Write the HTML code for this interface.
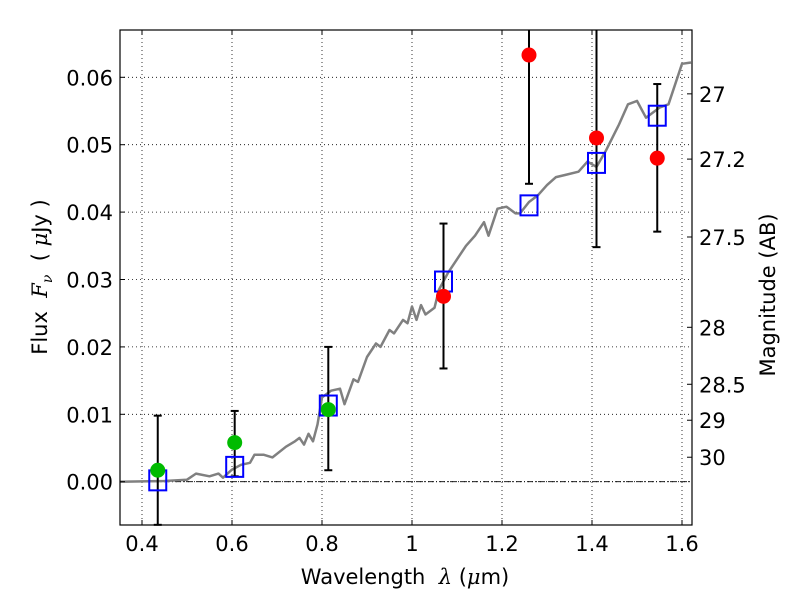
<!DOCTYPE html>
<html><head><meta charset="utf-8"><style>
body{margin:0;background:#fff;font-family:"Liberation Sans","DejaVu Sans",sans-serif}
svg text{font-family:"DejaVu Sans","Liberation Sans",sans-serif}
</style></head><body>
<svg id="chart" width="800" height="600" xmlns="http://www.w3.org/2000/svg">
<rect width="800" height="600" fill="#fff"/>
<g id="grid"></g>
<g id="model"></g>
<g id="marks"></g>
<rect x="120" y="30" width="572" height="495" fill="none" stroke="#000" stroke-width="1.2"/>
<g id="axes"></g>
<text x="405" y="584" font-size="21" text-anchor="middle" xml:space="preserve">Wavelength  <tspan font-style="italic" font-family="DejaVu Serif,serif">λ</tspan> (<tspan font-style="italic" font-family="DejaVu Serif,serif">μ</tspan>m)</text>
<text transform="translate(47,277) rotate(-90)" font-size="21" text-anchor="middle" xml:space="preserve">Flux  <tspan font-style="italic" font-family="DejaVu Serif,serif">F<tspan font-size="14" dy="5">ν</tspan></tspan><tspan dy="-5">  ( </tspan><tspan font-style="italic" font-family="DejaVu Serif,serif">μ</tspan>Jy )</text>
<text transform="translate(775,295) rotate(-90)" font-size="21" text-anchor="middle">Magnitude (AB)</text>
</svg>
<script>
const xTicks=[0.4,0.6,0.8,1.0,1.2,1.4,1.6];
const xTickLabels=["0.4","0.6","0.8","1","1.2","1.4","1.6"];
const yTicks=[0,0.01,0.02,0.03,0.04,0.05,0.06];
const yTickLabels=["0.00","0.01","0.02","0.03","0.04","0.05","0.06"];
const magTicks=[27,27.2,27.5,28,28.5,29,30];
const magLabels=["27","27.2","27.5","28","28.5","29","30"];
const greenX=[0.435,0.606,0.814];
const greenY=[0.0017,0.0058,0.0107];
const greenLo=[-0.0064,0.0008,0.0017];
const greenHi=[0.0098,0.0105,0.0200];
const redX=[1.07,1.26,1.41,1.545];
const redY=[0.0275,0.0633,0.0510,0.0480];
const redLo=[0.0168,0.0442,0.0348,0.0371];
const redHi=[0.0383,0.0700,0.0700,0.0590];
const sqX=[0.435,0.606,0.814,1.07,1.26,1.41,1.545];
const sqY=[0.0002,0.0022,0.0113,0.0297,0.0410,0.0473,0.0543];
const modelX=[0.35,0.45,0.5,0.52,0.55,0.57,0.58,0.6,0.62,0.64,0.65,0.67,0.69,0.72,0.74,0.75,0.76,0.77,0.78,0.79,0.80,0.82,0.84,0.85,0.87,0.88,0.90,0.92,0.93,0.95,0.96,0.98,0.99,1.0,1.01,1.02,1.03,1.05,1.06,1.08,1.10,1.12,1.14,1.16,1.17,1.19,1.21,1.23,1.24,1.26,1.28,1.30,1.32,1.34,1.37,1.39,1.41,1.43,1.46,1.48,1.50,1.52,1.55,1.57,1.60,1.62];
const modelY=[0,0.0001,0.0003,0.0012,0.0008,0.0012,0.0006,0.0018,0.0025,0.0028,0.0040,0.0040,0.0036,0.0052,0.0060,0.0065,0.0055,0.0071,0.0060,0.0085,0.0125,0.0135,0.0138,0.0115,0.0152,0.0148,0.0185,0.0205,0.0200,0.0225,0.0220,0.0240,0.0235,0.0260,0.0240,0.0262,0.0248,0.0258,0.0285,0.0310,0.0330,0.0350,0.0365,0.0385,0.0365,0.0405,0.0408,0.0398,0.0398,0.0415,0.0425,0.0440,0.0452,0.0455,0.0460,0.0475,0.0467,0.0490,0.0530,0.0560,0.0565,0.0540,0.0555,0.0560,0.0620,0.0622];

const L=120,R=692,T=30,B=525;
const X=v=>142+(v-0.4)*450;
const Y=v=>481.7-v*6740;
const clampY=y=>Math.max(T,Math.min(B,y));
const NS="http://www.w3.org/2000/svg";
function mk(tag,attrs,parent){const e=document.createElementNS(NS,tag);for(const k in attrs)e.setAttribute(k,attrs[k]);parent.appendChild(e);return e;}
const grid=document.getElementById('grid'),axes=document.getElementById('axes'),model=document.getElementById('model'),marks=document.getElementById('marks');

xTicks.forEach((t,i)=>{const x=X(t);
 const g=mk('line',{x1:x,x2:x,y1:T,y2:B,stroke:'#000','stroke-width':0.8,'stroke-dasharray':'1,3'},grid);
 
 
 mk('line',{x1:x,x2:x,y1:B,y2:B-5,stroke:'#000'},axes);
 mk('line',{x1:x,x2:x,y1:T,y2:T+5,stroke:'#000'},axes);
 const tx=mk('text',{x:x,y:B+26,'font-size':21,'text-anchor':'middle'},axes);tx.textContent=xTickLabels[i];
 
 
});
yTicks.forEach((t,i)=>{const y=Y(t);
 const g=mk('line',{x1:L,x2:R,y1:y,y2:y,stroke:'#000','stroke-width':0.8,'stroke-dasharray':'1,3'},grid);
 
 
 mk('line',{x1:L,x2:L+5,y1:y,y2:y,stroke:'#000'},axes);
 const tx=mk('text',{x:L-7,y:y+8,'font-size':21,'text-anchor':'end'},axes);tx.textContent=yTickLabels[i];
 
 
});
magTicks.forEach((m,i)=>{const y=Y(Math.pow(10,(23.9-m)/2.5));
 mk('line',{x1:R,x2:R-5,y1:y,y2:y,stroke:'#000'},axes);
 const tx=mk('text',{x:R+7,y:y+8,'font-size':21},axes);tx.textContent=magLabels[i];
 
 
});
const zl=mk('line',{x1:L,x2:R,y1:Y(0),y2:Y(0),stroke:'#000','stroke-width':0.8,'stroke-dasharray':'6,2,1,2'},grid);



const pts=modelX.map((v,i)=>X(v).toFixed(1)+','+Y(modelY[i]).toFixed(1)).join(' ');
const pl=mk('polyline',{points:pts,fill:'none',stroke:'#808080','stroke-width':2.5,'stroke-linejoin':'round'},model);



function errbar(x,lo,hi){const px=X(x),y1=clampY(Y(lo)),y2=clampY(Y(hi));
 const g=mk('g',{},marks);
 
 
 mk('line',{x1:px,x2:px,y1:y1,y2:y2,stroke:'#000','stroke-width':2},g);
 if(Y(lo)<B)mk('line',{x1:px-4,x2:px+4,y1:y1,y2:y1,stroke:'#000','stroke-width':2},g);
 if(Y(hi)>T)mk('line',{x1:px-4,x2:px+4,y1:y2,y2:y2,stroke:'#000','stroke-width':2},g);
}
greenX.forEach((x,i)=>errbar(x,greenLo[i],greenHi[i]));
redX.forEach((x,i)=>errbar(x,redLo[i],redHi[i]));
sqX.forEach((x,i)=>{const s=mk('rect',{x:X(x)-8.5,y:Y(sqY[i])-10,width:17,height:20,fill:'none',stroke:'#0000ff','stroke-width':2},marks);
 
 });
greenX.forEach((x,i)=>{const c=mk('circle',{cx:X(x),cy:Y(greenY[i]),r:7.5,fill:'#00bb00'},marks);
 
 });
redX.forEach((x,i)=>{const c=mk('circle',{cx:X(x),cy:Y(redY[i]),r:7.5,fill:'#ff0000'},marks);
 
 });
</script>
</body></html>
